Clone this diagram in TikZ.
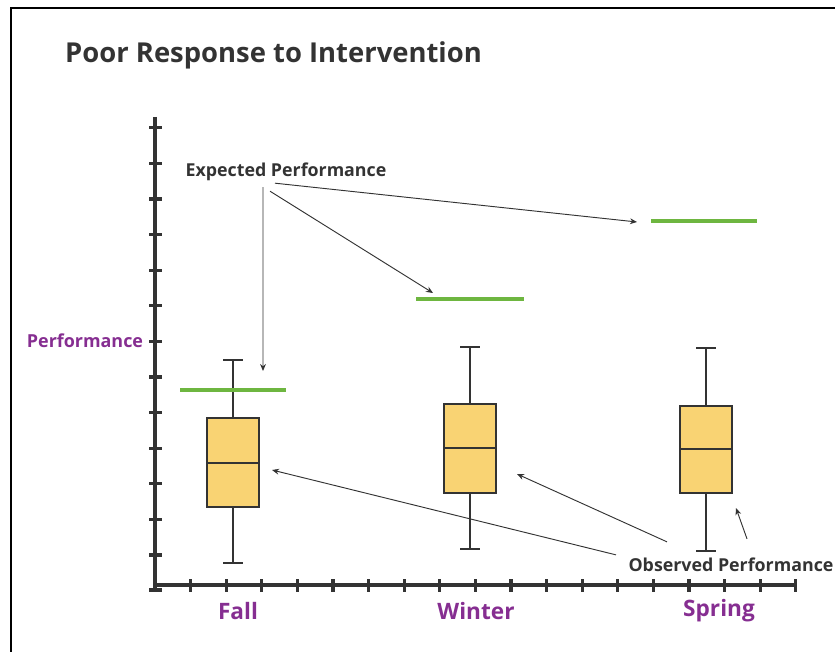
\documentclass[tikz,border=0pt]{standalone}
\usepackage{fontspec}
\setmainfont{Open Sans}
\usetikzlibrary{arrows.meta}
\definecolor{inkgray}{RGB}{51,51,51}
\definecolor{seasonpurple}{RGB}{134,46,145}
\definecolor{expgreen}{RGB}{110,182,64}
\definecolor{boxyellow}{RGB}{249,211,115}

\begin{document}
\begin{tikzpicture}[x=0.03cm,y=-0.03cm,
	axisline/.style={line width=2.6pt, draw=inkgray},
	whisker/.style={line width=1.5pt, draw=inkgray},
	goal/.style={line width=3.4pt, draw=expgreen},
	pointer/.style={-{Stealth[length=6pt,width=5pt]}, line width=0.8pt, draw=inkgray},
	callout/.style={font=\bfseries\fontsize{15.2}{17}\selectfont, text=inkgray, inner sep=0pt},
	season/.style={font=\bfseries\fontsize{19.3}{21}\selectfont, text=seasonpurple, inner sep=0pt}]
	\useasboundingbox (0,0) rectangle (835,652);
	%\draw[help lines] (0,0) grid[step=50] (835,652);
	\draw[line width=1.6pt] (11,652) -- (11,8) -- (835,8);
	\node[anchor=base west, font=\bfseries\fontsize{23.4}{26}\selectfont, text=inkgray, inner sep=0pt] (title) at (65,63) {Poor Response to Intervention};

	% axes
	\draw[axisline] (155,117) -- (155,590);
	\draw[axisline] (155,585) -- (796,585);
	\foreach \k in {0,...,12}
		\draw[axisline] (149,555-35.6*\k) -- (162,555-35.6*\k);
	\draw[axisline] (149,590) -- (162,590);
	\foreach \k in {1,...,18}
		\draw[axisline] (155+35.6*\k,579) -- (155+35.6*\k,592);
	\node[season, font=\bfseries\fontsize{15.3}{17}\selectfont] (perf) at (85,341) {Performance};
	\node[season] (fall) at (238,611) {Fall};
	\node[season] (winter) at (476,611) {Winter};
	\node[season] (spring) at (719,611) {Spring};

	% box plots
	\foreach \cx/\bl/\br/\hi/\qt/\md/\qb/\lo in {233/207/259/360/418/463/507/563,
			470/444/496/347/404/448/493/549, 706/680/732/348/406/449/493/551} {
		\draw[whisker] (\cx,\hi) -- (\cx,\lo);
		\draw[whisker] (\cx-10,\hi) -- (\cx+10,\hi);
		\draw[whisker] (\cx-10,\lo) -- (\cx+10,\lo);
		\draw[whisker, fill=boxyellow] (\bl,\qt) rectangle (\br,\qb);
		\draw[whisker] (\bl,\md) -- (\br,\md);
	}

	% expected levels
	\draw[goal] (180,390) -- (286,390);
	\draw[goal] (416,299) -- (524,299);
	\draw[goal] (651,221) -- (757,221);

	% callouts
	\node[callout] (exp) at (286,172) {Expected Performance};
	\node[callout] (obs) at (731,565) {Observed Performance};
	\coordinate (fallexp) at (263,371);
	\coordinate (winterexp) at (433,293);
	\coordinate (springexp) at (637,222);
	\coordinate (fallobs) at (272,470);
	\coordinate (winterobs) at (517,474);
	\coordinate (springobs) at (736,508);
	\draw[pointer] ([xshift=-0.69cm,yshift=-0.18cm]exp.south) -- (fallexp);
	\draw[pointer] ([xshift=-0.48cm,yshift=-0.3cm]exp.south) -- (winterexp);
	\draw[pointer] ([xshift=-0.33cm,yshift=-0.06cm]exp.south) -- (springexp);
	\draw[pointer] ([xshift=-3.45cm,yshift=0.09cm]obs.north) -- (fallobs);
	\draw[pointer] ([xshift=-1.92cm,yshift=0.48cm]obs.north) -- (winterobs);
	\draw[pointer] ([xshift=0.48cm,yshift=0.57cm]obs.north) -- (springobs);
\end{tikzpicture}
\end{document}
